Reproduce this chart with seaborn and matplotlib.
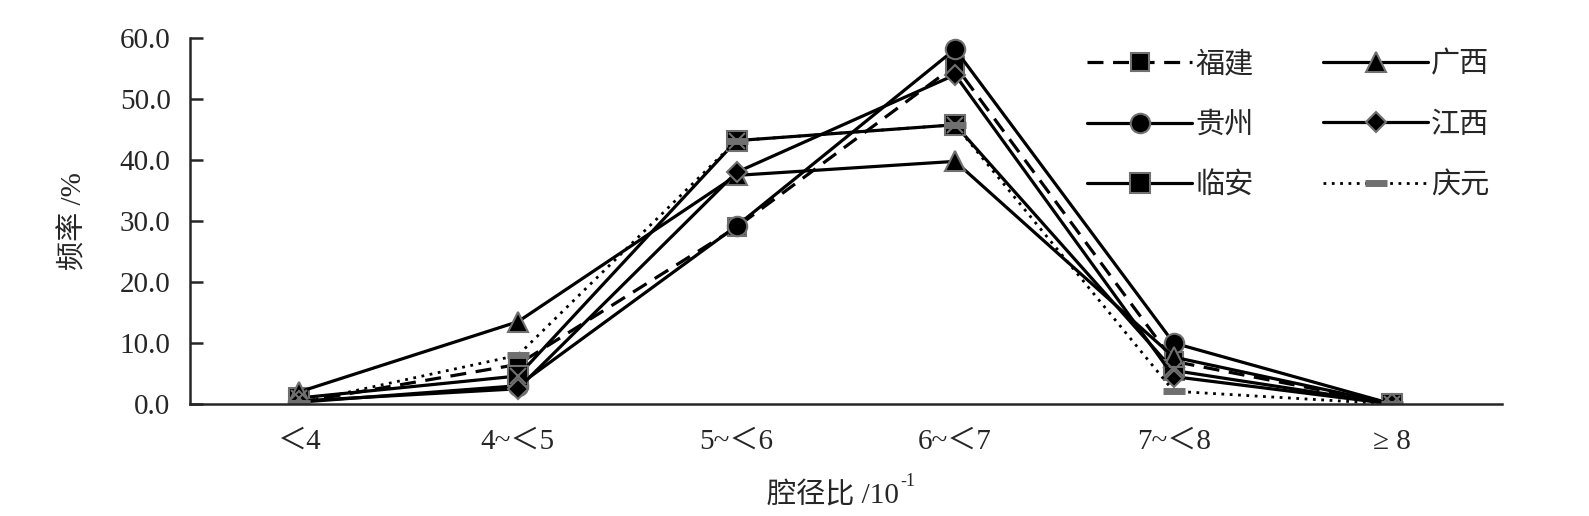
import matplotlib
matplotlib.use("Agg")
import matplotlib.pyplot as plt
import seaborn as sns

# categories on the x axis
categories = ["＜4", "4~＜5", "5~＜6", "6~＜7", "7~＜8", "≥ 8"]

# frequency (%) per region
fujian = [0.3, 6.5, 29.0, 55.5, 7.0, 0.0]
guangxi = [2.0, 13.5, 37.5, 39.8, 7.7, 0.0]
guizhou = [0.3, 3.0, 29.2, 58.2, 10.0, 0.0]
jiangxi = [0.5, 2.5, 38.0, 54.0, 4.5, 0.0]
linan = [1.0, 4.6, 43.2, 45.8, 5.5, 0.0]
qingyuan = [0.2, 8.0, 43.2, 45.8, 2.1, 0.0]

sns.set_style("ticks")
plt.rcParams['font.family'] = ['Liberation Serif', 'Noto Sans CJK SC']

fig = plt.figure(figsize=(15.89, 5.16), dpi=100)
ax = fig.add_axes([0.1196, 0.217, 0.945 - 0.1196, 0.926 - 0.217])

edge = "#707070"
common = dict(color="black", linewidth=2.3, markeredgecolor=edge,
              markeredgewidth=1.5, ax=ax)

sns.lineplot(x=categories, y=fujian, marker="s", markersize=13,
             linestyle=(0, (5, 3)), label="福建", **common)
sns.lineplot(x=categories, y=guizhou, marker="o", markersize=14,
             label="贵州", **common)
sns.lineplot(x=categories, y=linan, marker="s", markersize=14,
             label="临安", **common)
sns.lineplot(x=categories, y=guangxi, marker="^", markersize=15,
             label="广西", **common)
sns.lineplot(x=categories, y=jiangxi, marker="D", markersize=10,
             label="江西", **common)
sns.lineplot(x=categories, y=qingyuan, marker="_", markersize=16,
             color="black", linewidth=2.0, linestyle=(0, (1, 2)),
             markeredgecolor=edge, markeredgewidth=5, label="庆元", ax=ax)
# grey cross inside the 临安 squares
ax.plot(categories, linan, linestyle="none", marker="x", markersize=11,
        markeredgecolor=edge, markeredgewidth=1.5)

ax.set_xlim(-0.5, 5.5)
ax.set_ylim(0, 60)
ax.set_yticks([0, 10, 20, 30, 40, 50, 60])
ax.set_yticklabels([f"{v:.1f}" for v in [0, 10, 20, 30, 40, 50, 60]])

for s in ["top", "right"]:
    ax.spines[s].set_visible(False)
for s in ["left", "bottom"]:
    ax.spines[s].set_linewidth(1.8)

ax.tick_params(axis="y", direction="in", length=9, width=1.8, pad=14,
               labelsize=21)
ax.tick_params(axis="x", length=0, pad=18, labelsize=21)

# x label with a superscript -1
ax.set_xlabel("腔径比 /10", fontsize=21, labelpad=20)
ax.xaxis.label.set_position((0.49, 0))
ax.annotate("-1", xy=(1.0, 0.72), xycoords=ax.xaxis.label,
            xytext=(1, 0), textcoords="offset points",
            fontsize=13, va="bottom", ha="left")
ax.set_ylabel("频率 /%", fontsize=21, labelpad=23)

handles, labels = ax.get_legend_handles_labels()
# drop any extra entry from the cross overlay
handles, labels = handles[:6], labels[:6]
ax.legend(handles, labels, ncol=2, frameon=False, fontsize=21,
          handlelength=3.6, columnspacing=2.4, labelspacing=1.16,
          handletextpad=0.1, loc="upper left",
          bbox_to_anchor=(0.664, 1.036))

fig.savefig("out.png", dpi=100)
